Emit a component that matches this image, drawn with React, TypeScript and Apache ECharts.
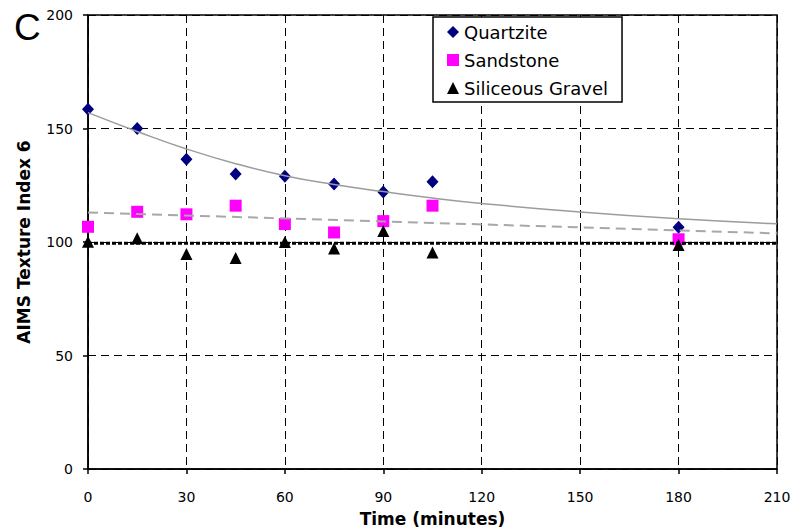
import React, { useEffect, useRef } from "react";
import * as echarts from "echarts";

// Sampling times (minutes) of the measured aggregates
const times = [0, 15, 30, 45, 60, 75, 90, 105, 180];
const quartzite = [158.5, 150, 136.5, 130, 129, 125.5, 122, 126.5, 106.5];
const sandstone = [106.7, 113.3, 112.2, 116, 107.9, 104.2, 109.2, 116, 101.2];
const gravel = [100.1, 101.7, 94.7, 93, 100, 97.1, 104.8, 95.4, 98.7];

// Trend lines
const fitTimes = [0, 15, 30, 45, 60, 75, 90, 105, 120, 150, 180, 210];
const quartziteFit = [157, 148.7, 141, 134.5, 129.2, 125.3, 122.2, 119.4, 117, 113.2, 110.2, 108];
const sandstoneFitTimes = [0, 210];
const sandstoneFit = [113, 103.8];
const gravelFitTimes = [0, 210];
const gravelFit = [99.5, 99.5];

const xTicks = { min: 0, max: 210, interval: 30 };
const yTicks = { min: 0, max: 200, interval: 50 };

const zip = (xs: number[], ys: number[]) => xs.map((x, i) => [x, ys[i]]);

const FONT = "DejaVu Sans";

export default function App() {
  const ref = useRef<HTMLDivElement>(null);

  useEffect(() => {
    if (!ref.current) return;
    const chart = echarts.init(ref.current, null, { renderer: "svg" });
    const dashed = { color: "#000", width: 1, type: [8, 5] as number[] };

    chart.setOption({
      animation: false,
      backgroundColor: "#fff",
      grid: {
        left: 88,
        right: 16,
        top: 15,
        bottom: 63,
        outerBoundsMode: "none",
        containLabel: false,
        show: true,
        borderColor: "#000",
        borderWidth: 1.5,
        backgroundColor: "transparent",
      },
      legend: {
        orient: "vertical",
        left: 433,
        top: 17,
        padding: [6, 14, 5, 14],
        itemGap: 10,
        itemWidth: 12,
        itemHeight: 12,
        backgroundColor: "#fff",
        borderColor: "#000",
        borderWidth: 1.5,
        borderRadius: 0,
        textStyle: { fontFamily: FONT, fontSize: 18, color: "#000" },
        data: ["Quartzite", "Sandstone", "Siliceous Gravel"],
      },
      graphic: [
        {
          type: "text",
          left: 14,
          top: 9,
          style: {
            text: "C",
            font: "37px 'Liberation Sans'",
            fill: "#000",
          },
        },
      ],
      xAxis: {
        type: "value",
        ...xTicks,
        name: "Time (minutes)",
        nameLocation: "middle",
        nameGap: 41,
        nameTextStyle: { fontFamily: FONT, fontSize: 17, fontWeight: "bold", color: "#000" },
        axisLine: { lineStyle: { color: "#000", width: 1.5 } },
        axisTick: { show: true, length: 5, lineStyle: { color: "#000", width: 1.5 } },
        axisLabel: { fontFamily: FONT, fontSize: 14, color: "#000", margin: 21 },
        splitLine: { show: true, lineStyle: dashed },
      },
      yAxis: {
        type: "value",
        ...yTicks,
        name: "AIMS Texture Index 6",
        nameLocation: "middle",
        nameGap: 56,
        nameTextStyle: { fontFamily: FONT, fontSize: 17, fontWeight: "bold", color: "#000" },
        axisLine: { show: true, lineStyle: { color: "#000", width: 1.5 } },
        axisTick: { show: true, length: 5, lineStyle: { color: "#000", width: 1.5 } },
        axisLabel: { fontFamily: FONT, fontSize: 14, color: "#000", margin: 15 },
        splitLine: { show: true, lineStyle: dashed },
      },
      series: [
        {
          name: "Quartzite",
          type: "scatter",
          symbol: "diamond",
          symbolSize: [12, 13],
          itemStyle: { color: "#000080", opacity: 1 },
          data: zip(times, quartzite),
          z: 3,
        },
        {
          name: "Sandstone",
          type: "scatter",
          symbol: "rect",
          symbolSize: 12,
          itemStyle: { color: "#ff00ff", opacity: 1 },
          data: zip(times, sandstone),
          z: 3,
        },
        {
          name: "Siliceous Gravel",
          type: "scatter",
          symbol: "triangle",
          symbolSize: 12,
          itemStyle: { color: "#000", opacity: 1 },
          data: zip(times, gravel),
          z: 3,
        },
        {
          name: "Quartzite trend",
          type: "line",
          smooth: true,
          showSymbol: false,
          lineStyle: { color: "#9c9c9c", width: 1.5 },
          data: zip(fitTimes, quartziteFit),
          z: 4,
        },
        {
          name: "Sandstone trend",
          type: "line",
          showSymbol: false,
          lineStyle: { color: "#a8a8a8", width: 2, type: [10, 6] },
          data: zip(sandstoneFitTimes, sandstoneFit),
          z: 4,
        },
        {
          name: "Siliceous Gravel trend",
          type: "line",
          showSymbol: false,
          lineStyle: { color: "#000", width: 3, type: [4, 2] },
          data: zip(gravelFitTimes, gravelFit),
          z: 4,
        },
      ],
    });

    return () => chart.dispose();
  }, []);

  return (
    <div
      ref={ref}
      style={{ position: "fixed", left: 0, top: 0, width: 793, height: 532 }}
    />
  );
}
